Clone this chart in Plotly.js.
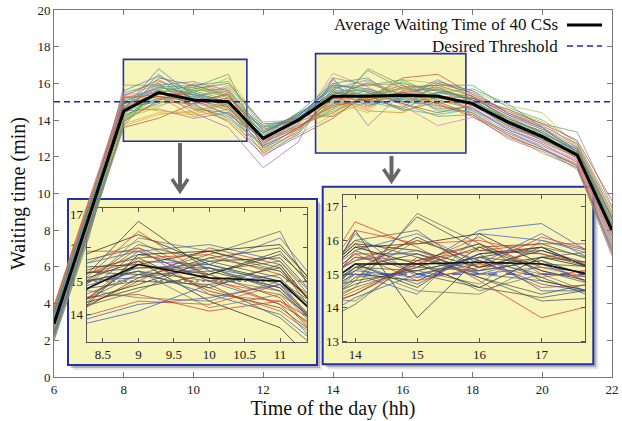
<!DOCTYPE html>
<html><head><meta charset="utf-8">
<script src="https://cdn.plot.ly/plotly-3.0.1.min.js"></script>
<style>html,body{margin:0;padding:0;background:#fff}#chart{width:622px;height:421px}</style>
</head><body><div id="chart"></div>
<script>
// ---- data ----
const hours = [6,7,8,9,10,11,12,13,14,15,16,17,18,19,20,21,22];
const avgWait = [2.9,8.7,14.5,15.5,15.1,15.0,13.0,14.0,15.3,15.3,15.35,15.3,14.9,13.9,13.1,12.1,8.0];
const threshold = 15;
const cs01 = [3.1,8.9,14.6,16.8,15.3,14.8,12.8,13.9,15.2,15.6,15.1,15.4,14.8,13.7,13.0,12.2,7.9];
const cs02 = [2.6,8.3,15.9,15.9,15.0,14.6,13.1,14.2,15.9,15.0,15.3,14.9,15.2,14.1,13.3,11.9,8.3];
const cs03 = [3.5,9.2,14.2,15.2,15.8,16.5,12.4,13.6,14.6,16.8,15.9,15.1,14.6,13.5,12.8,12.0,7.4];
const cs04 = [2.2,7.9,13.6,14.1,14.9,15.2,13.5,14.0,15.5,15.2,16.3,16.5,15.4,14.3,13.6,12.3,8.7];
const cs05 = [3.8,9.6,14.9,15.6,14.4,13.6,11.4,12.8,16.3,13.7,15.5,15.8,15.0,13.8,12.9,12.5,8.1];
const cs06 = [2.9,8.6,14.4,16.3,15.9,15.3,13.3,14.3,14.2,15.4,14.5,15.0,14.3,13.2,12.4,11.6,7.0];
const cs07 = [3.3,8.8,14.0,15.0,16.0,15.5,12.9,13.7,16.55,15.8,14.8,13.7,14.15,13.4,12.6,11.8,7.6];
const cs08 = [2.4,8.1,15.2,15.7,14.7,14.2,12.6,14.4,14.8,16.7,15.7,15.6,15.1,14.5,13.8,13.35,9.3];
const cs09 = [3.0,8.5,14.8,15.4,15.5,16.3,13.7,13.5,15.0,14.4,16.2,16.0,15.6,14.8,14.4,12.6,8.9];
const cs10 = [2.7,8.4,15.5,16.0,15.2,14.5,12.2,13.2,15.7,15.0,14.6,14.3,14.6,13.6,13.0,11.9,7.7];
const cs11 = [3.6,9.3,14.3,14.9,15.6,15.7,13.4,14.1,15.1,16.1,15.2,15.5,15.3,14.0,13.2,12.2,8.0];
const cs12 = [2.1,7.8,13.8,14.4,14.3,14.9,12.7,13.8,14.4,15.3,15.9,15.2,14.8,13.9,13.3,12.0,8.4];
const cs13 = [3.4,9.0,15.0,15.8,15.4,15.0,13.6,14.0,16.0,15.5,15.0,14.8,14.4,13.3,12.5,11.5,6.8];
const cs14 = [2.8,8.7,14.7,15.3,14.6,14.0,12.3,13.4,15.3,14.7,15.6,15.7,15.2,14.2,13.5,12.4,8.6];
const cs15 = [3.2,8.9,14.1,15.5,15.9,15.4,13.0,14.2,15.8,15.9,16.2,15.3,14.9,13.7,12.9,12.1,7.8];
const cs16 = [2.5,8.2,15.3,16.2,15.1,14.7,12.5,13.6,14.9,15.1,14.7,16.0,15.5,14.4,13.7,12.7,9.0];
const cs17 = [3.7,9.4,14.5,14.6,14.1,14.4,13.2,14.3,15.4,16.0,15.4,14.6,14.7,13.5,12.7,11.7,7.2];
const cs18 = [2.3,8.0,13.9,15.1,15.7,16.0,13.8,13.9,14.7,15.2,15.8,15.9,15.3,14.1,13.4,12.3,8.2];
const cs19 = [3.9,9.7,15.4,15.9,15.0,14.3,12.0,13.3,16.2,14.9,15.1,15.4,14.5,13.6,12.8,11.8,7.5];
const cs20 = [2.0,7.6,14.6,16.1,15.6,15.1,12.9,14.1,15.6,15.6,14.9,14.2,14.3,13.0,12.3,11.4,6.6];
const cs21 = [3.1,8.8,14.2,14.8,15.2,15.9,13.5,14.0,15.0,14.8,15.6,15.8,15.0,14.6,13.9,12.5,8.8];
const cs22 = [2.6,8.3,15.1,15.6,14.8,14.1,12.6,13.7,14.5,15.3,16.1,15.0,14.9,13.9,13.1,12.0,7.9];
const cs23 = [3.3,9.1,14.4,15.2,15.3,15.6,13.1,14.4,16.0,16.3,15.0,15.5,15.7,14.9,13.6,12.2,8.5];
const cs24 = [2.9,8.4,13.7,14.3,14.5,14.9,12.4,13.2,14.3,15.0,15.4,14.7,14.4,13.3,12.6,11.6,7.3];
const cs25 = [3.5,9.2,15.6,16.4,15.5,15.0,13.3,14.2,15.9,15.7,15.2,15.7,15.1,14.0,13.2,12.1,8.1];
const cs26 = [2.4,8.0,14.9,15.3,14.2,14.6,12.2,13.5,15.2,14.5,14.4,15.3,14.6,13.7,12.9,11.9,7.7];
const cs27 = [3.0,8.6,14.0,15.7,15.8,15.2,13.7,14.1,15.5,15.4,15.7,15.9,15.9,14.7,14.0,12.8,9.2];
const cs28 = [3.6,9.3,15.2,15.4,15.4,14.7,12.8,13.6,14.8,15.1,15.5,14.9,14.2,13.1,12.4,11.5,6.9];
const cs29 = [2.2,7.9,14.3,15.9,16.1,15.6,13.4,14.3,15.7,16.2,15.3,16.2,15.3,14.3,13.5,12.4,8.6];
const cs30 = [3.8,9.5,14.7,15.0,14.9,13.9,12.1,13.1,14.1,15.5,14.9,14.4,14.8,13.8,13.0,12.0,8.0];
const cs31 = [2.7,8.4,15.4,15.5,15.2,15.8,13.9,14.0,15.3,14.6,15.8,15.1,14.7,13.5,12.7,11.7,7.4];
const cs32 = [3.2,9.0,14.5,16.0,14.6,14.4,12.7,13.8,16.3,15.9,16.0,15.6,15.2,14.2,13.3,12.3,8.3];
const cs33 = [2.8,8.5,14.1,14.7,15.7,15.3,13.2,13.9,14.6,15.2,15.1,15.8,15.4,14.5,13.7,12.6,8.8];
const cs34 = [3.4,9.1,15.0,15.1,15.4,14.8,12.5,13.3,15.1,14.9,15.6,14.5,14.5,13.4,12.5,11.3,7.1];
const cs35 = [2.5,8.2,13.7,15.8,15.9,16.1,13.6,14.2,15.8,15.3,14.6,15.5,15.1,14.0,13.4,12.2,8.2];
const cs36 = [3.7,9.4,14.8,14.5,14.4,15.0,12.3,13.4,14.9,16.0,15.4,15.0,14.9,13.9,13.1,11.9,7.8];
const cs37 = [2.3,8.1,14.6,16.5,15.1,14.3,13.0,14.1,15.6,14.8,15.2,16.1,15.6,14.4,13.6,12.5,8.7];
const cs38 = [3.9,9.6,15.3,15.2,14.8,15.5,12.9,13.7,14.4,15.4,15.9,14.8,14.4,13.2,12.2,11.4,6.7];
const cs39 = [2.0,7.7,13.9,15.6,15.5,14.9,13.3,14.4,15.4,15.7,15.0,15.2,15.0,14.1,13.3,12.3,8.4];
const cs40 = [3.1,8.7,14.9,15.3,15.0,15.4,12.6,13.5,15.2,15.1,15.5,15.3,15.2,14.6,13.8,12.9,9.6];
const csSeries = [cs01,cs02,cs03,cs04,cs05,cs06,cs07,cs08,cs09,cs10,cs11,cs12,cs13,cs14,cs15,cs16,cs17,cs18,cs19,cs20,
                  cs21,cs22,cs23,cs24,cs25,cs26,cs27,cs28,cs29,cs30,cs31,cs32,cs33,cs34,cs35,cs36,cs37,cs38,cs39,cs40];
const mainTicksX = [6,8,10,12,14,16,18,20,22];
const mainTicksY = [0,2,4,6,8,10,12,14,16,18,20];
const inset1TicksX = [8.5,9,9.5,10,10.5,11];
const inset1TicksY = [14,15,16,17];
const inset2TicksX = [14,15,16,17];
const inset2TicksY = [13,14,15,16,17];
const legendLabels = ['Average Waiting Time of 40 CSs','Desired Threshold'];

// ---- styles ----
const mainPalette = ['#2f7fb8','#e07b2a','#4aa44a','#c83a3a','#8a63b5','#8c5a48','#d874b8','#7f7f7f','#b8b832','#27b3c4','#3b9c8c','#d9a230'];
const insetPalette = ['#2b2b2b','#e53a1f','#5a5a5a','#2f4fc0','#1e1e1e','#707070','#d8321c','#3d3d3d','#3a5ad0','#4a4a4a'];
const SERIF = 'Liberation Serif, Times New Roman, serif';
const YEL = 'rgb(247,245,186)';
const BLUE = '#2330a8';

// pixel -> paper helpers (plot area 54..612 x, 10..377 y)
const px = v => (v - 54) / 558;
const py = v => (377 - v) / 367;

const traces = [];
// inset 1 (x,y) and inset 2 (x2,y2)
[['x','y','#666','dot'],['x2','y2','#3545c8','dash']].forEach(([xa,ya,thc,thd]) => {
  csSeries.forEach((s,i) => traces.push({x:hours,y:s,xaxis:xa,yaxis:ya,type:'scatter',mode:'lines',
     line:{color:insetPalette[i%insetPalette.length],width:0.8},opacity:0.9,hoverinfo:'skip',showlegend:false}));
  traces.push({x:[hours[0],hours[hours.length-1]],y:[threshold,threshold],xaxis:xa,yaxis:ya,mode:'lines',
     line:{color:thc,width:1.2,dash:thd},hoverinfo:'skip',showlegend:false});
  traces.push({x:hours,y:avgWait,xaxis:xa,yaxis:ya,mode:'lines',line:{color:'#111',width:1.6},hoverinfo:'skip',showlegend:false});
});
// main (x3,y3)
csSeries.forEach((s,i) => traces.push({x:hours,y:s,xaxis:'x3',yaxis:'y3',type:'scatter',mode:'lines',
   line:{color:mainPalette[i%mainPalette.length],width:0.8},opacity:0.85,hoverinfo:'skip',showlegend:false}));
traces.push({x:[hours[0],hours[hours.length-1]],y:[threshold,threshold],xaxis:'x3',yaxis:'y3',mode:'lines',
   line:{color:'#1c22c8',width:1.6,dash:'6px,4px'},hoverinfo:'skip',showlegend:false});
traces.push({x:hours,y:avgWait,xaxis:'x3',yaxis:'y3',mode:'lines',line:{color:'#000',width:3},hoverinfo:'skip',showlegend:false});

const axBase = {showgrid:false,zeroline:false,showline:true,mirror:'ticks',ticks:'inside',
  tickfont:{family:SERIF,size:13,color:'#222'}};

const shapes = [];
// inset frames with shadow
[[68,317,199,365],[322.7,593.3,186.7,364.3]].forEach(([x0,x1,y0,y1]) => {
  shapes.push({type:'rect',xref:'paper',yref:'paper',layer:'below',x0:px(x0+5),x1:px(x1+5),y0:py(y1+5),y1:py(y0+5),
    fillcolor:'rgba(0,0,0,0.10)',line:{width:0}});
  shapes.push({type:'rect',xref:'paper',yref:'paper',layer:'below',x0:px(x0+3),x1:px(x1+3),y0:py(y1+3),y1:py(y0+3),
    fillcolor:'rgba(0,0,0,0.22)',line:{width:0}});
  shapes.push({type:'rect',xref:'paper',yref:'paper',layer:'below',x0:px(x0),x1:px(x1),y0:py(y1),y1:py(y0),
    fillcolor:YEL,line:{color:BLUE,width:2}});
});
// highlight boxes on main chart
shapes.push({type:'rect',xref:'x3',yref:'y3',layer:'below',x0:7.99,x1:11.53,y0:12.85,y1:17.31,fillcolor:YEL,line:{color:BLUE,width:1.6}});
shapes.push({type:'rect',xref:'x3',yref:'y3',layer:'below',x0:13.5,x1:17.81,y0:12.21,y1:17.62,fillcolor:YEL,line:{color:BLUE,width:1.6}});
// arrows
[[180,143,191],[391.5,156,181]].forEach(([x,y0,y1]) => {
  shapes.push({type:'line',xref:'paper',yref:'paper',x0:px(x),x1:px(x),y0:py(y0),y1:py(y1-2),line:{color:'#666',width:4}});
  shapes.push({type:'path',xref:'paper',yref:'paper',
    path:`M${px(x-8)},${py(y1-12)} L${px(x)},${py(y1)} L${px(x+8)},${py(y1-12)}`,line:{color:'#666',width:3.5}});
});
// legend samples
shapes.push({type:'line',xref:'paper',yref:'paper',x0:px(567),x1:px(602),y0:py(25),y1:py(25),line:{color:'#000',width:3}});
shapes.push({type:'line',xref:'paper',yref:'paper',x0:px(567),x1:px(602),y0:py(46),y1:py(46),line:{color:'#1c22c8',width:1.6,dash:'6px,4px'}});

const annotations = [
  {xref:'paper',yref:'paper',x:px(559),y:py(24),xanchor:'right',yanchor:'middle',showarrow:false,borderpad:0,text:legendLabels[0],font:{family:SERIF,size:17,color:'#111'}},
  {xref:'paper',yref:'paper',x:px(559),y:py(46),xanchor:'right',yanchor:'middle',showarrow:false,borderpad:0,text:legendLabels[1],font:{family:SERIF,size:17,color:'#111'}}
];

const layout = {
  width:622,height:421,margin:{l:54,r:10,t:10,b:44},
  font:{family:SERIF},
  paper_bgcolor:'#fff',plot_bgcolor:'rgba(0,0,0,0)',showlegend:false,
  xaxis:Object.assign({},axBase,{domain:[px(86.7),px(307)],anchor:'y',range:[8.27,11.38],tickvals:inset1TicksX,ticklen:4,linecolor:'#555',tickcolor:'#555'}),
  yaxis:Object.assign({},axBase,{domain:[py(342),py(208)],anchor:'x',range:[13.17,17.2],tickvals:inset1TicksY,ticklen:4,linecolor:'#555',tickcolor:'#555'}),
  xaxis2:Object.assign({},axBase,{domain:[px(342.7),px(585)],anchor:'y2',range:[13.8,17.7],tickvals:inset2TicksX,ticklen:4,linecolor:'#555',tickcolor:'#555'}),
  yaxis2:Object.assign({},axBase,{domain:[py(342.3),py(195)],anchor:'x2',range:[12.97,17.35],tickvals:inset2TicksY,ticklen:4,linecolor:'#555',tickcolor:'#555'}),
  xaxis3:Object.assign({},axBase,{domain:[0,1],anchor:'y3',range:[6,22],tickvals:mainTicksX,ticklen:5,linecolor:'#777',tickcolor:'#777',
     title:{text:'Time of the day (hh)',font:{family:SERIF,size:20,color:'#111'},standoff:4}}),
  yaxis3:Object.assign({},axBase,{domain:[0,1],anchor:'x3',range:[0,20],tickvals:mainTicksY,ticklen:5,linecolor:'#777',tickcolor:'#777',
     title:{text:'Waiting time (min)',font:{family:SERIF,size:20,color:'#111'},standoff:6}}),
  shapes:shapes,annotations:annotations
};
Plotly.newPlot('chart',traces,layout,{displayModeBar:false,staticPlot:true});
</script>
</body></html>
